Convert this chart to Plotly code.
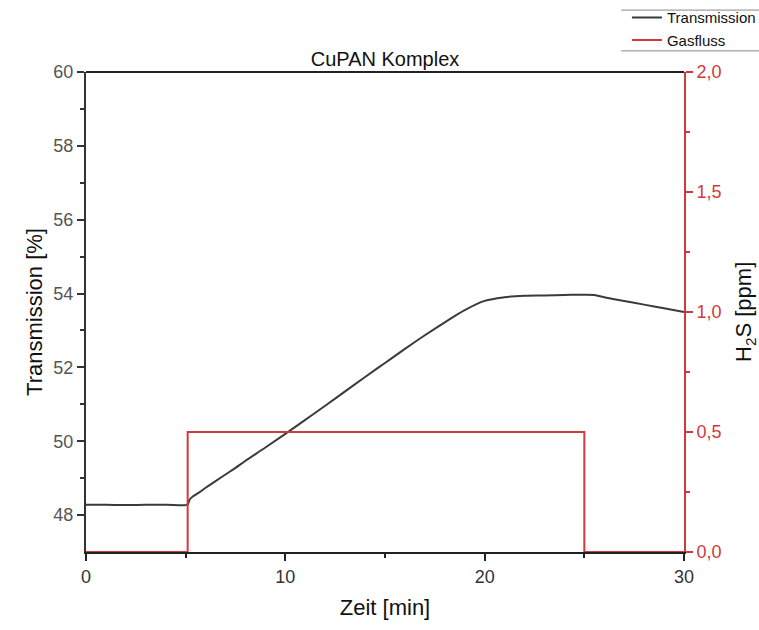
import plotly.graph_objects as go

zeit = [0, 1, 2, 3, 4, 5.0, 5.12, 5.2, 5.4, 5.7, 6.0, 6.5, 7.0, 7.5, 8.0, 9.0, 10.0, 11.0, 12.0, 13.0, 14.0,
        15.0, 16.0, 17.0, 18.0, 19.0, 20.0, 21.0, 22.0, 23.0, 24.0, 25.0, 25.5, 26.0, 27.0, 28.0, 29.0, 30.0]
transmission = [48.28, 48.28, 48.27, 48.28, 48.28, 48.27, 48.3, 48.42, 48.52, 48.62, 48.74, 48.92, 49.1, 49.28,
                49.47, 49.83, 50.2, 50.58, 50.96, 51.35, 51.74, 52.12, 52.5, 52.87, 53.22, 53.55, 53.8, 53.9,
                53.94, 53.95, 53.96, 53.97, 53.96, 53.9, 53.8, 53.7, 53.6, 53.5]

gas_zeit = [0, 5.1, 5.1, 25.0, 25.0, 30]
gas_fluss = [0, 0, 0.5, 0.5, 0, 0]

red = "#d0393e"
font = "Liberation Sans, Arial, sans-serif"

fig = go.Figure()
fig.add_trace(go.Scatter(x=zeit, y=transmission, mode="lines", name="Transmission",
                         line=dict(color="#3a3a3a", width=2), line_shape="spline"))
fig.add_trace(go.Scatter(x=gas_zeit, y=gas_fluss, mode="lines", name="Gasfluss",
                         line=dict(color=red, width=2), yaxis="y2"))

fig.update_layout(
    width=759, height=630,
    margin=dict(l=86, r=75, t=72, b=78, autoexpand=False),
    plot_bgcolor="white", paper_bgcolor="white",
    font=dict(family=font, size=16, color="#555555"),
    title=dict(text="CuPAN Komplex", x=0.5, xanchor="center", xref="paper", y=1, yref="paper",
               yanchor="bottom", pad=dict(b=6), font=dict(size=20, color="#111111")),
    xaxis=dict(range=[0, 30], tickvals=[0, 10, 20, 30], ticks="outside", ticklen=7, tickwidth=2,
               tickcolor="#222222", showline=True, linecolor="#222222", linewidth=2,
               showgrid=False, zeroline=False, mirror=False, automargin=True,
               minor=dict(tickvals=[5, 15, 25], ticks="outside", ticklen=4, tickwidth=2, tickcolor="#222222"),
               title=dict(text="Zeit [min]", font=dict(size=22, color="#111111"), standoff=14),
               tickfont=dict(size=18, color="#333333")),
    yaxis=dict(range=[47, 60], tickvals=[48, 50, 52, 54, 56, 58, 60], ticks="outside", ticklen=7, tickwidth=2,
               tickcolor="#333333", showline=True, linecolor="#333333", linewidth=2,
               showgrid=False, zeroline=False, automargin=True,
               minor=dict(tickvals=[49, 51, 53, 55, 57, 59], ticks="outside", ticklen=4, tickwidth=2,
                          tickcolor="#333333"),
               title=dict(text="Transmission [%]", font=dict(size=22, color="#111111"), standoff=5),
               tickfont=dict(size=18, color="#555555")),
    yaxis2=dict(range=[0, 2], overlaying="y", side="right", tickvals=[0, 0.5, 1.0, 1.5, 2.0],
                ticktext=["0,0", "0,5", "1,0", "1,5", "2,0"], ticks="outside", ticklen=7, tickwidth=2,
                tickcolor=red, showline=True, linecolor=red, linewidth=2, showgrid=False, zeroline=False,
                automargin=True,
                minor=dict(tickvals=[0.25, 0.75, 1.25, 1.75], ticks="outside", ticklen=4, tickwidth=2,
                           tickcolor=red),
                tickfont=dict(size=18, color=red)),
    legend=dict(x=0.826, xanchor="left", y=0.998, yanchor="top", xref="container", yref="container",
                bgcolor="rgba(0,0,0,0)", font=dict(size=15, color="#111111"),
                tracegroupgap=0, itemwidth=30),
    showlegend=True,
)
# right axis title
fig.add_annotation(text="H<sub>2</sub>S [ppm]", xref="paper", yref="paper", x=1.102, y=0.5,
                   xanchor="center", yanchor="middle", textangle=-90, showarrow=False,
                   font=dict(size=22, color="#111111"))
# top border line of plot
fig.add_shape(type="line", xref="paper", yref="paper", x0=0, x1=1, y0=1, y1=1,
              line=dict(color="#222222", width=2))
# legend frame lines
fig.add_shape(type="line", xref="paper", yref="paper", x0=0.895, x1=1.13, y0=1.129, y1=1.129,
              line=dict(color="#888888", width=1))
fig.add_shape(type="line", xref="paper", yref="paper", x0=0.895, x1=1.13, y0=1.044, y1=1.044,
              line=dict(color="#888888", width=1))

fig.write_html("out.html")
